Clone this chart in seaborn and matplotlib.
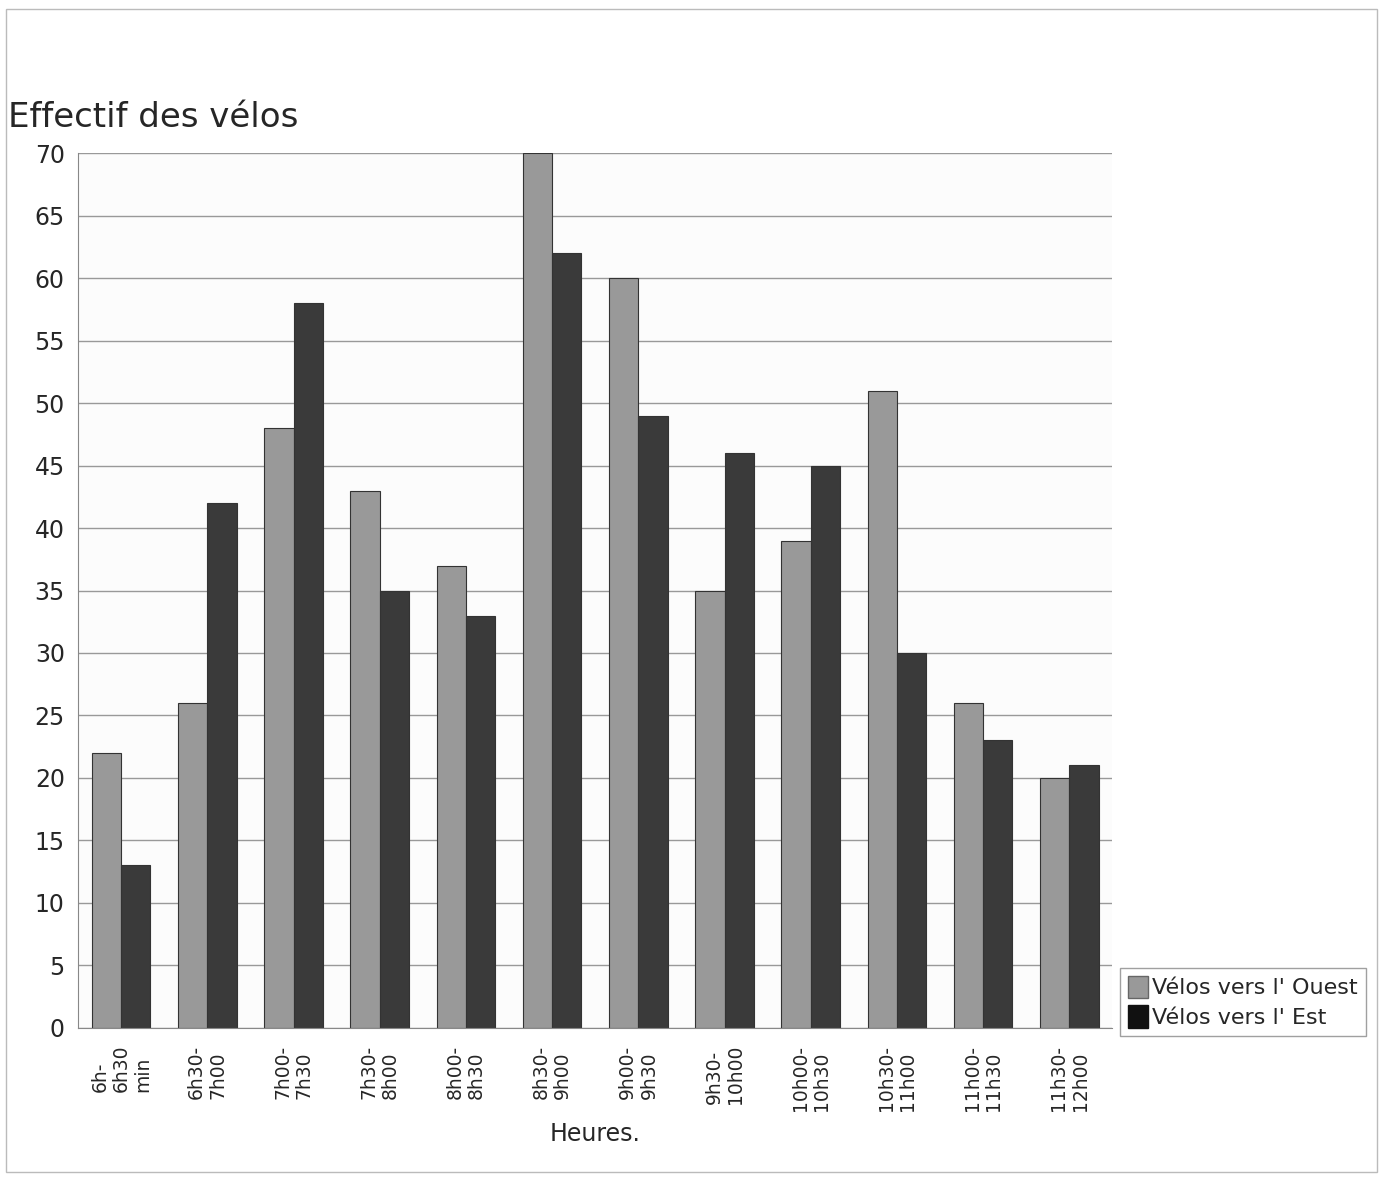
import matplotlib
matplotlib.use("Agg")
import matplotlib.pyplot as plt
import seaborn as sns
import pandas as pd
import numpy as np

heures = ["6h-\n6h30\nmin", "6h30-\n7h00", "7h00-\n7h30", "7h30-\n8h00",
          "8h00-\n8h30", "8h30-\n9h00", "9h00-\n9h30", "9h30-\n10h00",
          "10h00-\n10h30", "10h30-\n11h00", "11h00-\n11h30", "11h30-\n12h00"]
ouest = [22, 26, 48, 43, 37, 70, 60, 35, 39, 51, 26, 20]
est = [13, 42, 58, 35, 33, 62, 49, 46, 45, 30, 23, 21]
series = ["Vélos vers l' Ouest", "Vélos vers l' Est"]

df = pd.DataFrame({
    "Heures": heures * 2,
    "Effectif": ouest + est,
    "Sens": [series[0]] * len(heures) + [series[1]] * len(heures),
})

sns.set_style("white")
plt.rcParams['font.family'] = ['DejaVu Sans']

fig = plt.figure(figsize=(13.83, 11.77), dpi=100)
ax = fig.add_axes([0.0564, 0.1266, 0.748, 0.7434])
ax.set_facecolor("#fcfcfc")

sns.barplot(data=df, x="Heures", y="Effectif", hue="Sens", ax=ax,
            palette=["#999999", "#3a3a3a"], width=0.68,
            edgecolor="#333333", linewidth=0.8, legend=False)

ax.set_ylim(0, 70)
ax.set_xlim(-0.5, len(heures) - 0.5)
ax.set_yticks(range(0, 71, 5))
ax.tick_params(axis="y", labelsize=17, length=6, color="#888888", direction="out")
ax.yaxis.grid(True, color="#999999", linewidth=1)
ax.set_axisbelow(True)

ax.set_xticks(range(len(heures)))
ax.set_xticklabels(heures, rotation=90, fontsize=13.5, linespacing=1.15,
                   multialignment="left")
ax.tick_params(axis="x", length=0, pad=12)
ax.set_xticks(np.arange(-0.5, len(heures), 1), minor=True)
ax.tick_params(axis="x", which="minor", length=6, color="#888888")

for s in ["top", "right"]:
    ax.spines[s].set_visible(False)
for s in ["left", "bottom"]:
    ax.spines[s].set_color("#888888")

ax.set_xlabel("Heures.", fontsize=17, labelpad=8)
ax.set_ylabel("")
fig.text(0.006, 0.9, "Effectif des vélos", fontsize=24.5, ha="left", va="center")

handles = [plt.Rectangle((0, 0), 1, 1, facecolor="#999999", edgecolor="#666666"),
           plt.Rectangle((0, 0), 1, 1, facecolor="#111111", edgecolor="#111111")]
fig.legend(handles, series, loc="lower left", bbox_to_anchor=(0.81, 0.12),
           fontsize=16, frameon=True, fancybox=False, edgecolor="#888888",
           handlelength=0.9, handleheight=1.2, handletextpad=0.2,
           borderpad=0.35, labelspacing=0.3, borderaxespad=0)

fig.patches.append(plt.Rectangle((0.004, 0.004), 0.992, 0.988, transform=fig.transFigure,
                                 fill=False, edgecolor="#bbbbbb", linewidth=1))

fig.savefig("out.png", dpi=100)
